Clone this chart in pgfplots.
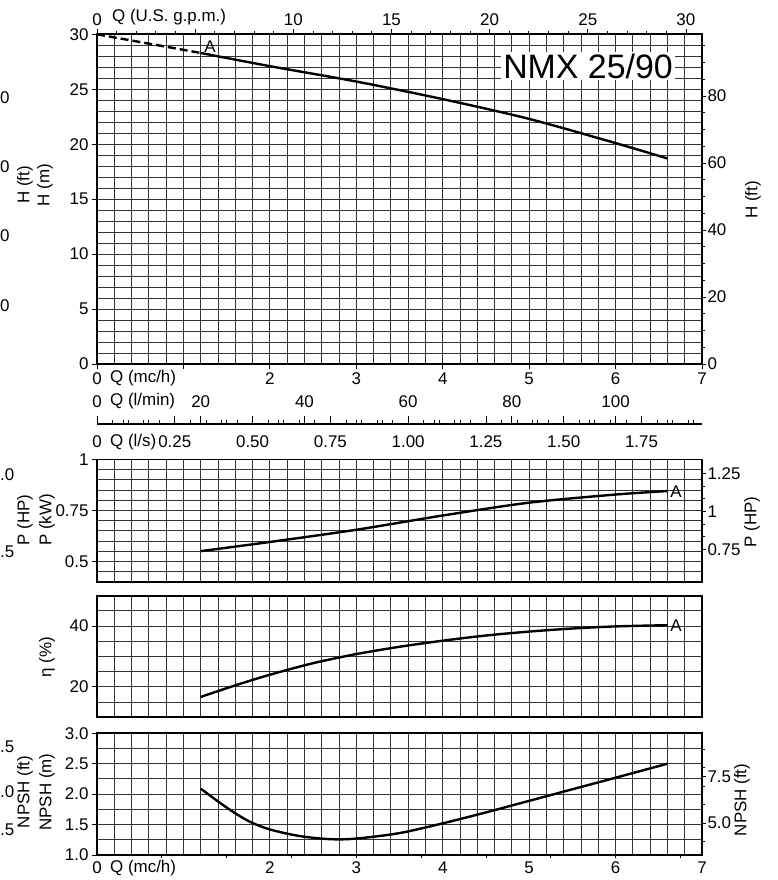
\documentclass[border=0pt]{standalone}
\usepackage{fontspec}
\setmainfont{Liberation Sans}
\usepackage{pgfplots}
\pgfplotsset{compat=1.18}
\newcommand\tf{\fontsize{17}{17}\selectfont}
\pgfplotsset{
 base/.style={scale only axis, width=605bp, xmin=0, xmax=7, clip=false, anchor=south west,
   tick label style={font=\tf, black}, /pgf/number format/assume math mode=true},
 gridax/.style={base, xtick={0,0.2,...,7.01}, xmajorticks=false, ymajorticks=false,
   grid=major, major grid style={black!80, line width=0.9bp}, axis line style={line width=1.8bp}},
 tickax/.style={base, axis line style={draw=none}, tick style={black, line width=0.8bp},
   major tick length=5bp, minor tick length=3bp, tick align=outside},
 rightax/.style={tickax, axis y line*=right, axis x line=none, major tick length=4bp,
   yticklabel style={xshift=-2bp}},
 curve/.style={black, line width=2.4bp, smooth, no marks},
}
\begin{document}
\begin{tikzpicture}
%================ TOP PANEL (H) =================
\begin{axis}[gridax, at={(97bp,516bp)}, height=329.7bp, ymin=0, ymax=30, ytick={0,1,...,30}]
\addplot[curve, dash pattern=on 8bp off 4bp] coordinates {(0,30) (0.6,29.15) (1.2,28.3)};
\addplot[curve] coordinates {(1.2,28.3) (2,27.1) (3,25.7) (4,24.1) (5,22.3) (6,20.1) (6.6,18.7)};
\end{axis}
\begin{axis}[tickax, at={(97bp,516bp)}, height=329.7bp, ymin=0, ymax=30, axis y line*=left, axis x line=none,
  ytick={0,5,...,30}, yticklabels={0,5,10,15,20,25,30}]
\end{axis}
\begin{axis}[rightax, at={(97bp,516bp)}, height=329.7bp, ymin=0, ymax=98.4252,
  ytick={0,20,...,80}, yticklabels={0,20,40,60,80}, minor ytick={0,5,...,95}]
\end{axis}
\begin{axis}[tickax, at={(97bp,516bp)}, height=329.7bp, ymin=0, ymax=1, axis x line*=bottom, axis y line=none,
  xtick={0,...,7}, xticklabels={0,,2,3,4,5,6,7}]
\end{axis}
\begin{axis}[tickax, at={(97bp,516bp)}, height=329.7bp, ymin=0, ymax=1, xmin=0, xmax=30.8201,
  axis x line*=top, axis y line=none,
  xtick={0,5,...,30}, xticklabels={0,,10,15,20,25,30}, minor xtick={0,...,30}]
\end{axis}
%================ MIDDLE FLOW AXIS =================
\begin{axis}[tickax, at={(97bp,455.7bp)}, height=0.5bp, ymin=0, ymax=1, xmin=0, xmax=1.944444,
  axis line style={draw=black, line width=1.6bp}, axis x line*=bottom, axis y line=none,
  tick align=inside, major tick length=8bp, minor tick length=4bp, xticklabel style={yshift=-8bp},
  xtick={0,0.25,...,1.75}, xticklabels={0,0.25,0.50,0.75,1.00,1.25,1.50,1.75}, minor xtick={0,0.05,...,1.91}]
\end{axis}
\begin{axis}[tickax, at={(97bp,455.7bp)}, height=0.5bp, ymin=0, ymax=1, xmin=0, xmax=116.6667,
  axis x line*=top, axis y line=none, major tick length=8bp, minor tick length=4bp,
  xticklabel style={yshift=5bp},
  xtick={0,20,...,100}, xticklabels={0,20,40,60,80,100}, minor xtick={0,5,...,115}]
\end{axis}
%================ POWER PANEL =================
\begin{axis}[gridax, at={(97bp,298.3bp)}, height=122.2bp, ymin=0.4, ymax=1, ytick={0.4,0.45,...,1.01}]
\addplot[curve] coordinates {(1.2,0.55) (2,0.595) (3,0.655) (4,0.725) (5,0.788) (6,0.828) (6.6,0.845)};
\end{axis}
\begin{axis}[tickax, at={(97bp,298.3bp)}, height=122.2bp, ymin=0.4, ymax=1, axis y line*=left, axis x line=none,
  ytick={0.5,0.75,1}, yticklabels={0.5,0.75,1}]
\end{axis}
\begin{axis}[rightax, at={(97bp,298.3bp)}, height=122.2bp, ymin=0.53641, ymax=1.34102,
  ytick={0.75,1,1.25}, yticklabels={0.75,1,1.25}, minor tick num=2]
\end{axis}
%================ EFFICIENCY PANEL =================
\begin{axis}[gridax, at={(97bp,162.7bp)}, height=121.6bp, ymin=10, ymax=50, ytick={10,15,...,50}]
\addplot[curve] coordinates {(1.2,16.7) (1.6,20.5) (2,24.0) (2.5,27.8) (3,30.8) (3.5,33.2) (4,35.2) (4.5,36.9) (5,38.2) (5.5,39.2) (6,39.9) (6.6,40.3)};
\end{axis}
\begin{axis}[tickax, at={(97bp,162.7bp)}, height=121.6bp, ymin=10, ymax=50, axis y line*=left, axis x line=none,
  ytick={20,40}, yticklabels={20,40}]
\end{axis}
%================ NPSH PANEL =================
\begin{axis}[gridax, at={(97bp,25bp)}, height=121.7bp, ymin=1, ymax=3, ytick={1,1.25,...,3.01}]
\addplot[curve] coordinates {(1.2,2.09) (1.5,1.78) (1.75,1.56) (2,1.42) (2.35,1.31) (2.7,1.26) (3,1.27) (3.5,1.36) (4,1.52) (4.5,1.7) (5,1.89) (5.5,2.08) (6,2.27) (6.6,2.5)};
\end{axis}
\begin{axis}[tickax, at={(97bp,25bp)}, height=121.7bp, ymin=1, ymax=3, axis y line*=left, axis x line=none,
  ytick={1,1.5,...,3}, yticklabels={1.0,1.5,2.0,2.5,3.0}]
\end{axis}
\begin{axis}[rightax, at={(97bp,25bp)}, height=121.7bp, ymin=3.28084, ymax=9.84252,
  ytick={5,7.5}, yticklabels={5.0,7.5}, minor ytick={4,5,...,9}]
\end{axis}
\begin{axis}[tickax, at={(97bp,25bp)}, height=121.7bp, ymin=0, ymax=1, axis x line*=bottom, axis y line=none,
  major tick length=0pt, xticklabel style={yshift=-3bp},
  xtick={0,2,3,4,5,6,7}, xticklabels={0,2,3,4,5,6,7}, minor xtick={0.75,1.5,...,6.8}]
\end{axis}
%================ TEXT =================
\begin{scope}[every node/.style={font=\tf, inner sep=0pt}]
\node[anchor=west] at (112bp,863bp) {Q (U.S. g.p.m.)};
\node[anchor=west] at (110bp,502bp) {Q (mc/h)};
\node[anchor=west] at (110bp,479.3bp) {Q (l/min)};
\node[anchor=west] at (110bp,437.7bp) {Q (l/s)};
\node[anchor=west] at (110bp,12bp) {Q (mc/h)};
\node at (210bp,833bp) {A};
\node at (676bp,388.3bp) {A};
\node at (676bp,254.3bp) {A};
\node[rotate=90] at (25bp,695bp) {H (ft)};
\node[rotate=90] at (45bp,695bp) {H (m)};
\node[rotate=90] at (753bp,680bp) {H (ft)};
\node[rotate=90] at (25bp,360bp) {P (HP)};
\node[rotate=90] at (47bp,360bp) {P (kW)};
\node[rotate=90] at (752bp,358bp) {P (HP)};
\node[rotate=90] at (47bp,223bp) {η (\%)};
\node[rotate=90] at (25bp,88bp) {NPSH (ft)};
\node[rotate=90] at (47bp,88bp) {NPSH (m)};
\node[rotate=90] at (742bp,80bp) {NPSH (ft)};
\node[anchor=west] at (0bp,782bp) {0};
\node[anchor=west] at (0bp,713bp) {0};
\node[anchor=west] at (0bp,644bp) {0};
\node[anchor=west] at (0bp,574bp) {0};
\node[anchor=west] at (0bp,405bp) {.0};
\node[anchor=west] at (0bp,328bp) {.5};
\node[anchor=west] at (0bp,133bp) {.5};
\node[anchor=west] at (0bp,88bp) {.0};
\node[anchor=west] at (0bp,50bp) {.5};
\node[fill=white, inner sep=2bp, font=\fontsize{34}{34}\selectfont] at (588bp,814bp) {NMX 25/90};
\end{scope}
\pgfresetboundingbox
\path[use as bounding box] (0bp,0bp) rectangle (778bp,880bp);
\end{tikzpicture}
\end{document}
